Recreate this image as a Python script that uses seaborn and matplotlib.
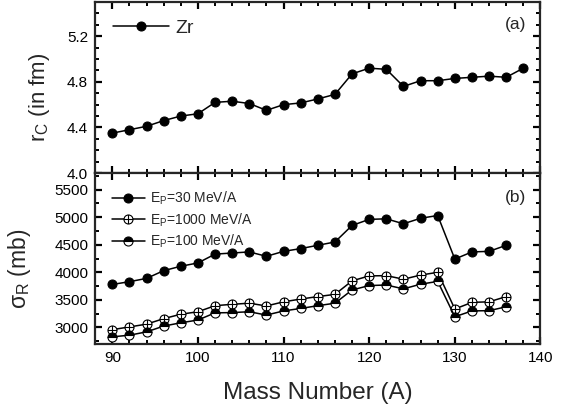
import numpy as np
import pandas as pd
import seaborn as sns
from matplotlib import pyplot as plt
from matplotlib.path import Path
from matplotlib.ticker import MultipleLocator

# values
mass_a = [90, 92, 94, 96, 98, 100, 102, 104, 106, 108, 110, 112, 114,
          116, 118, 120, 122, 124, 126, 128, 130, 132, 134, 136, 138]
rc_zr = [4.35, 4.38, 4.41, 4.46, 4.50, 4.52, 4.62, 4.63, 4.61, 4.55, 4.60, 4.615, 4.65,
         4.69, 4.87, 4.92, 4.91, 4.76, 4.81, 4.81, 4.83, 4.84, 4.85, 4.84, 4.92]

mass_b = [90, 92, 94, 96, 98, 100, 102, 104, 106, 108, 110, 112,
          114, 116, 118, 120, 122, 124, 126, 128, 130, 132, 134, 136]
sig_30 = [3780, 3830, 3890, 4030, 4110, 4170, 4330, 4350, 4370, 4290, 4380, 4430,
          4490, 4550, 4850, 4960, 4970, 4880, 4980, 5030, 4240, 4370, 4380, 4490]
sig_1000 = [2960, 3010, 3060, 3160, 3240, 3285, 3395, 3420, 3440, 3390, 3465, 3515,
            3560, 3600, 3845, 3935, 3940, 3875, 3950, 4000, 3335, 3455, 3465, 3560]
sig_100 = [2830, 2860, 2920, 3025, 3085, 3135, 3265, 3270, 3285, 3225, 3300, 3345,
           3395, 3440, 3680, 3760, 3770, 3700, 3785, 3835, 3195, 3300, 3305, 3375]

sns.set_style("ticks")
plt.rcParams['font.family'] = ['Liberation Sans', 'DejaVu Sans']
plt.rcParams['mathtext.default'] = 'regular'
plt.rcParams['axes.linewidth'] = 1.6
for a in ("xtick", "ytick"):
    plt.rcParams[a + '.direction'] = 'in'
    plt.rcParams[a + '.major.width'] = 1.6
    plt.rcParams[a + '.minor.width'] = 1.4
    plt.rcParams[a + '.major.size'] = 5
    plt.rcParams[a + '.minor.size'] = 3
    plt.rcParams[a + '.major.pad'] = 5
    plt.rcParams[a + '.color'] = 'black'

# circle with a cross inside
oplus = Path.make_compound_path(
    Path.unit_circle(),
    Path([[-1, 0], [1, 0]], [Path.MOVETO, Path.LINETO]),
    Path([[0, -1], [0, 1]], [Path.MOVETO, Path.LINETO]),
)

fig, axs = plt.subplots(nrows=2, sharex=True, figsize=(5.63, 4.12), dpi=100)
fig.subplots_adjust(left=0.169, right=0.960, top=0.995, bottom=0.165, hspace=0)

top = sns.lineplot(x=mass_a, y=rc_zr, ax=axs[0], color="black", lw=1.1,
                   marker="o", ms=6.5, mfc="black", mec="black", label="Zr")
top.set(ylim=(4.0, 5.5), xlim=(88, 140))
top.yaxis.set_major_locator(MultipleLocator(0.4))
top.yaxis.set_minor_locator(MultipleLocator(0.1))
top.set_ylabel("r$_C$ (in fm)", fontsize=16)
top.yaxis.set_label_coords(-0.097, 0.44)
top.legend(loc="upper left", frameon=False, fontsize=14, handlelength=2.9,
           borderaxespad=0.5, handletextpad=0.35)
top.text(0.968, 0.91, "(a)", transform=top.transAxes, ha="right", va="top", fontsize=12.5)

bot = axs[1]
sns.lineplot(x=mass_b, y=sig_30, ax=bot, color="black", lw=1.1,
             marker="o", ms=6.5, mfc="black", mec="black", label="E$_P$=30 MeV/A")
sns.lineplot(x=mass_b, y=sig_1000, ax=bot, color="black", lw=1.1,
             marker=oplus, ms=6.5, mfc="white", mec="black", mew=0.8,
             label="E$_P$=1000 MeV/A")
sns.lineplot(x=mass_b, y=sig_100, ax=bot, color="black", lw=1.1,
             marker="o", ms=6.5, fillstyle="top", mfc="black", mfcalt="white",
             mec="black", mew=0.8, label="E$_P$=100 MeV/A")
bot.set(ylim=(2700, 5800), xlim=(88, 140))
bot.yaxis.set_major_locator(MultipleLocator(500))
bot.yaxis.set_minor_locator(MultipleLocator(250))
bot.xaxis.set_major_locator(MultipleLocator(10))
bot.xaxis.set_minor_locator(MultipleLocator(2))
bot.set_ylabel("σ$_R$ (mb)", fontsize=16.5)
bot.yaxis.set_label_coords(-0.14, 0.44)
bot.set_xlabel("Mass Number (A)", fontsize=17.5, labelpad=12)
bot.legend(loc="upper left", frameon=False, fontsize=10, handlelength=2.4,
           borderaxespad=0.8, handletextpad=0.35, labelspacing=0.3)
bot.text(0.968, 0.9, "(b)", transform=bot.transAxes, ha="right", va="top", fontsize=12.5)

for ax in axs:
    ax.tick_params(which="both", top=True, right=True, labelsize=11)
    for s in ax.spines.values():
        s.set_visible(True)

plt.savefig("out.png", dpi=100)
